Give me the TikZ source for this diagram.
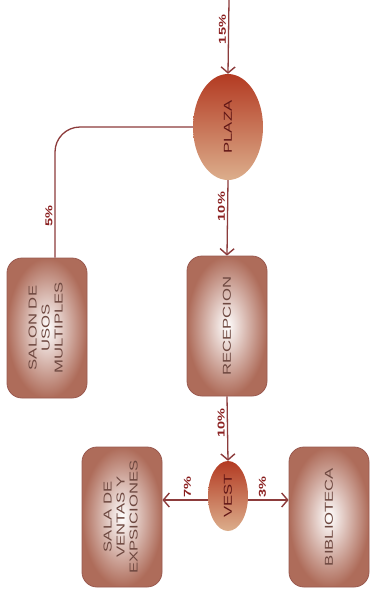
\documentclass[tikz,border=0pt]{standalone}
\usepackage{fontspec}
\setmainfont{Liberation Sans}
\newfontfamily\wideFont[FakeStretch=1.45]{Liberation Sans}
\usepackage{tikz}
\usetikzlibrary{shapes.geometric, arrows.meta, positioning, calc}
\definecolor{LineRed}{HTML}{8C3B3B}
\definecolor{BoxBrown}{HTML}{AE6C5A}
\definecolor{BoxEdge}{HTML}{9A5A50}
\definecolor{BoxText}{HTML}{6E4840}
\definecolor{PlazaTop}{HTML}{B33A22}
\definecolor{PlazaBottom}{HTML}{DCAE8C}
\definecolor{LabelRed}{HTML}{8A1F1F}
\tikzset{
    room/.style={draw=BoxEdge, thick, rounded corners=15pt, inner color=white, outer color=BoxBrown, align=center, font=\wideFont\fontsize{11.5}{13}\selectfont, text=BoxText, minimum width=80pt, minimum height=140pt},
    hub/.style={ellipse, draw=none, top color=PlazaTop, bottom color=PlazaBottom, font=\wideFont\fontsize{11.5}{13}\selectfont, text=LabelRed!70!black, inner sep=0pt},
    flow/.style={-{Straight Barb[length=6pt, width=14pt, line width=1.4pt]}, line width=1.3pt, draw=LineRed},
    link/.style={line width=1.3pt, draw=LineRed},
    pct/.style={font=\wideFont\bfseries\fontsize{10}{11}\selectfont, text=LabelRed, inner sep=2pt}
}
\begin{document}
\begin{tikzpicture}[x=1pt, y=-1pt]
    \useasboundingbox (0,0) rectangle (375,603);
    % Main circulation nodes
    \coordinate (entry) at (229,0);
    \node[hub, minimum width=70pt, minimum height=106pt] (plaza) at (228,127) {\rotatebox{90}{PLAZA}};
    \node[room] (recepcion) at (227,326) {\rotatebox{90}{RECEPCION}};
    \node[hub, minimum width=40pt, minimum height=70pt] (vest) at (228,496) {\rotatebox{90}{VEST}};

    % Side rooms
    \node[room] (salon) at (47,328) {\rotatebox{90}{\begin{tabular}{@{}c@{}}SALON DE\\USOS\\MULTIPLES\end{tabular}}};
    \node[room] (sala) at (122,517) {\rotatebox{90}{\begin{tabular}{@{}c@{}}SALA DE\\VENTAS Y\\EXPSICIONES\end{tabular}}};
    \node[room] (biblio) at (329,517) {\rotatebox{90}{BIBLIOTECA}};

    % Edges
    \draw[flow] (entry) -- node[pct, left, pos=0.4] {\rotatebox{90}{15\%}} (plaza.north);
    \draw[flow] (plaza.south) -- node[pct, left, pos=0.35] {\rotatebox{90}{10\%}} (recepcion.north);
    \draw[flow] (recepcion.south) -- node[pct, left, pos=0.42] {\rotatebox{90}{10\%}} (vest.north);
    \draw[link, rounded corners=25pt] (plaza.west) -| node[pct, left, pos=0.84] {\rotatebox{90}{5\%}} ([xshift=8pt]salon.north);
    \draw[flow] ([yshift=-4pt]vest.west) -- node[pct, above, pos=0.45] {\rotatebox{90}{7\%}} ([yshift=-4pt]vest.west -| sala.east);
    \draw[flow] ([yshift=-4pt]vest.east) -- node[pct, above, pos=0.35] {\rotatebox{90}{3\%}} ([yshift=-4pt]vest.east -| biblio.west);
\end{tikzpicture}
\end{document}
